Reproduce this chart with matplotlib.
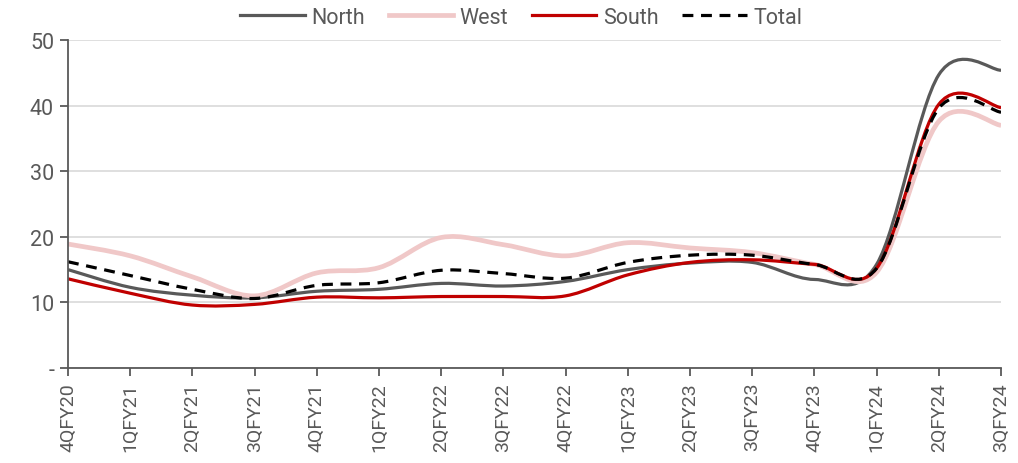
#!/usr/bin/env python3
"""
Regional trend by quarter (North / West / South / Total), smoothed lines.
Output: out.png
"""
import numpy as np
import matplotlib
matplotlib.use("Agg")
import matplotlib.pyplot as plt
from matplotlib.path import Path
from matplotlib.patches import PathPatch
from matplotlib.lines import Line2D

quarters = ["4QFY20", "1QFY21", "2QFY21", "3QFY21", "4QFY21", "1QFY22", "2QFY22", "3QFY22",
            "4QFY22", "1QFY23", "2QFY23", "3QFY23", "4QFY23", "1QFY24", "2QFY24", "3QFY24"]
north = [15.0, 12.3, 11.1, 10.7, 11.7, 12.0, 12.9, 12.5, 13.2, 15.0, 16.0, 16.1, 13.5, 15.8, 44.7, 45.4]
west = [18.9, 17.1, 13.9, 11.0, 14.5, 15.3, 19.9, 18.8, 17.1, 19.1, 18.3, 17.6, 15.8, 14.6, 37.6, 37.0]
south = [13.6, 11.4, 9.6, 9.7, 10.8, 10.7, 10.9, 10.9, 11.0, 14.2, 16.1, 16.5, 15.8, 15.2, 40.2, 39.7]
total = [16.2, 14.1, 12.0, 10.6, 12.6, 13.0, 14.9, 14.4, 13.7, 16.1, 17.2, 17.2, 15.8, 15.2, 39.6, 39.0]
series_names = ["North", "West", "South", "Total"]

plt.rcParams["font.family"] = ["Roboto", "DejaVu Sans"]
plt.rcParams["font.weight"] = "normal"
TEXT = "#595959"


def smooth_path(xs, ys):
    # Excel-style smoothed line: cubic Bezier through each point
    pts = np.column_stack([xs, ys]).astype(float)
    n = len(pts)
    verts = [pts[0]]
    codes = [Path.MOVETO]
    for i in range(n - 1):
        p_prev = pts[max(i - 1, 0)]
        p0, p1 = pts[i], pts[i + 1]
        p_next = pts[min(i + 2, n - 1)]
        c1 = p0 + (p1 - p_prev) / 6.0
        c2 = p1 - (p_next - p0) / 6.0
        verts += [c1, c2, p1]
        codes += [Path.CURVE4] * 3
    return Path(verts, codes)


fig = plt.figure(figsize=(10.18, 4.64), dpi=100)
ax = fig.add_axes([0.0668, 0.2047, 0.9165, 0.7069])

x = np.arange(len(quarters))
styles = {
    "North": dict(color="#595959", lw=2.3, ls="-"),
    "West": dict(color="#f0c8c8", lw=3.4, ls="-"),
    "South": dict(color="#c00000", lw=2.3, ls="-"),
    "Total": dict(color="#000000", lw=2.3, ls=(0, (3.4, 2.4))),
}
handles = []
for name, vals in zip(series_names, [north, west, south, total]):
    st = styles[name]
    patch = PathPatch(smooth_path(x, vals), fill=False, edgecolor=st["color"],
                      lw=st["lw"], ls=st["ls"], capstyle="butt", joinstyle="round")
    ax.add_patch(patch)
    handles.append(Line2D([], [], color=st["color"], lw=st["lw"], ls=st["ls"]))

ax.set_xlim(0, len(quarters) - 1)
ax.set_ylim(0, 50)
ax.set_xticks(x)
ax.set_xticklabels(quarters, rotation=90, fontsize=14, color=TEXT)
ax.set_yticks([0, 10, 20, 30, 40, 50])
ax.set_yticklabels(["-", "10", "20", "30", "40", "50"], fontsize=15.5, color=TEXT)

ax.grid(axis="y", color="#d9d9d9", lw=1.2)
ax.set_axisbelow(True)
for side in ["top", "right"]:
    ax.spines[side].set_visible(False)
for side in ["left", "bottom"]:
    ax.spines[side].set_color("#595959")
    ax.spines[side].set_linewidth(1.3)
ax.tick_params(axis="both", direction="out", length=6, width=1.3, color="#595959", pad=4)

leg = fig.legend(handles, series_names, loc="upper center", bbox_to_anchor=(0.512, 1.025), ncol=4,
                 frameon=False, fontsize=15.5, handlelength=3.0, handletextpad=0.3, columnspacing=1.1)
for t in leg.get_texts():
    t.set_color(TEXT)

fig.savefig("out.png", dpi=100)
plt.close()
